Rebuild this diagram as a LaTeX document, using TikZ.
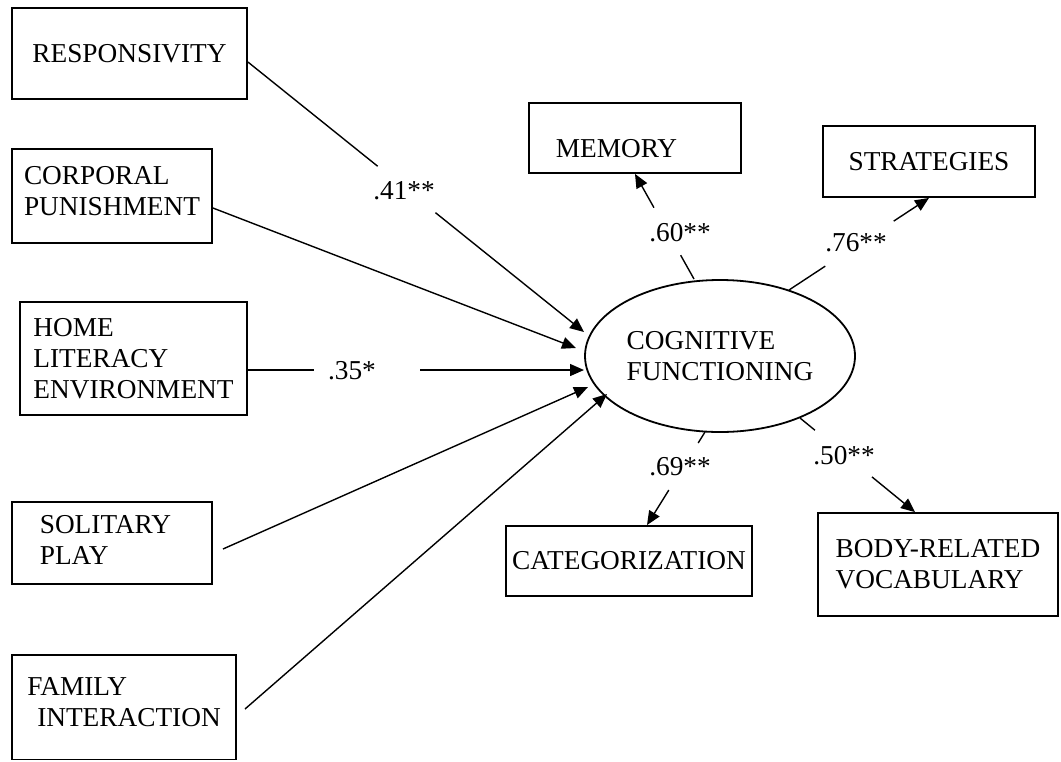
\documentclass[tikz,border=0pt]{standalone}
\usepackage{fontspec}
\setmainfont{Liberation Serif}
\usetikzlibrary{arrows.meta,shapes.geometric,calc}
\begin{document}
\begin{tikzpicture}[x=1pt,y=-1pt,
  every node/.style={font=\fontsize{27.3}{31}\selectfont},
  box/.style={draw, line width=1.8pt, rectangle, inner sep=0pt, align=left},
  lat/.style={draw, line width=1.8pt, ellipse, inner sep=0pt, align=left,
              minimum width=270pt, minimum height=152pt},
  coef/.style={inner sep=0pt},
  link/.style={line width=1.4pt},
  arr/.style={link, -{Triangle[length=14pt,width=12pt]}}
]
\useasboundingbox (0,0) rectangle (1061,761);

% observed predictors
\node[box, minimum width=235pt, minimum height=91pt] (resp) at (129.5,53.5) {RESPONSIVITY};
\node[box, minimum width=200pt, minimum height=94pt] (corp) at (112,196) {CORPORAL\\PUNISHMENT\rule[-11pt]{0pt}{0pt}};
\node[box, minimum width=227pt, minimum height=113pt] (home) at (133.5,358.5) {HOME\\LITERACY\\ENVIRONMENT};
\node[box, minimum width=200pt, minimum height=82pt] (sol) at (112,543) {SOLITARY\hspace*{13pt}\\PLAY\rule[-7pt]{0pt}{0pt}};
\node[box, minimum width=224pt, minimum height=104.5pt] (fam) at (124,707.25) {FAMILY\\\hspace*{10pt}INTERACTION\rule[-11pt]{0pt}{0pt}};

% latent variable
\node[lat] (cog) at (720,356) {COGNITIVE\\FUNCTIONING};

% indicators
\node[box, minimum width=212pt, minimum height=70pt] (mem) at (635,138) {\rule{0pt}{38.5pt}MEMORY\hspace*{37pt}};
\node[box, minimum width=212pt, minimum height=71pt] (strat) at (929,161.5) {STRATEGIES};
\node[box, minimum width=246pt, minimum height=70pt] (cat) at (629,561) {CATEGORIZATION};
\node[box, minimum width=240pt, minimum height=103pt] (body) at (938,564.5) {BODY-RELATED\\VOCABULARY};

% coordinates of connector ends
\coordinate (s1) at (resp.east |- 0,62);
\coordinate (t1) at (584,332);
\coordinate (s2) at (corp.east |- 0,208);
\coordinate (t2) at (576,348);
\coordinate (s3) at (home.east |- 0,370);
\coordinate (t3) at (584,370);
\coordinate (s4) at (223,549);
\coordinate (t4) at (588,387);
\coordinate (s5) at (245,709);
\coordinate (t5) at (607,394);

\coordinate (s6) at (694,279);
\coordinate (t6) at (mem.south);
\coordinate (s7) at (789,290);
\coordinate (t7) at (strat.south);
\coordinate (s8) at (705,432);
\coordinate (t8) at (cat.north -| 647,0);
\coordinate (s9) at (800,418);
\coordinate (t9) at (body.north -| 915,0);

% paths into the latent variable
\draw[link] (s1) -- ($(s1)!0.386!(t1)$);
\draw[arr] ($(s1)!0.558!(t1)$) -- (t1);
\node[coef] (c1) at (404,191) {.41**};

\draw[arr] (s2) -- (t2);

\draw[link] (s3) -- ($(s3)!0.196!(t3)$);
\draw[arr] ($(s3)!0.513!(t3)$) -- (t3);
\node[coef] (c3) at (352,371) {.35*};

\draw[arr] (s4) -- (t4);
\draw[arr] (s5) -- (t5);

% loadings
\draw[link] (s6) -- ($(s6)!0.226!(t6)$);
\draw[arr] ($(s6)!0.679!(t6)$) -- (t6);
\node[coef] (c6) at (680,233) {.60**};

\draw[link] (s7) -- ($(s7)!0.259!(t7)$);
\draw[arr] ($(s7)!0.748!(t7)$) -- (t7);
\node[coef] (c7) at (856,243) {.76**};

\draw[link] (s8) -- ($(s8)!0.118!(t8)$);
\draw[arr] ($(s8)!0.624!(t8)$) -- (t8);
\node[coef] (c8) at (680,467) {.69**};

\draw[link] (s9) -- ($(s9)!0.13!(t9)$);
\draw[arr] ($(s9)!0.626!(t9)$) -- (t9);
\node[coef] (c9) at (844,456) {.50**};
\end{tikzpicture}
\end{document}
